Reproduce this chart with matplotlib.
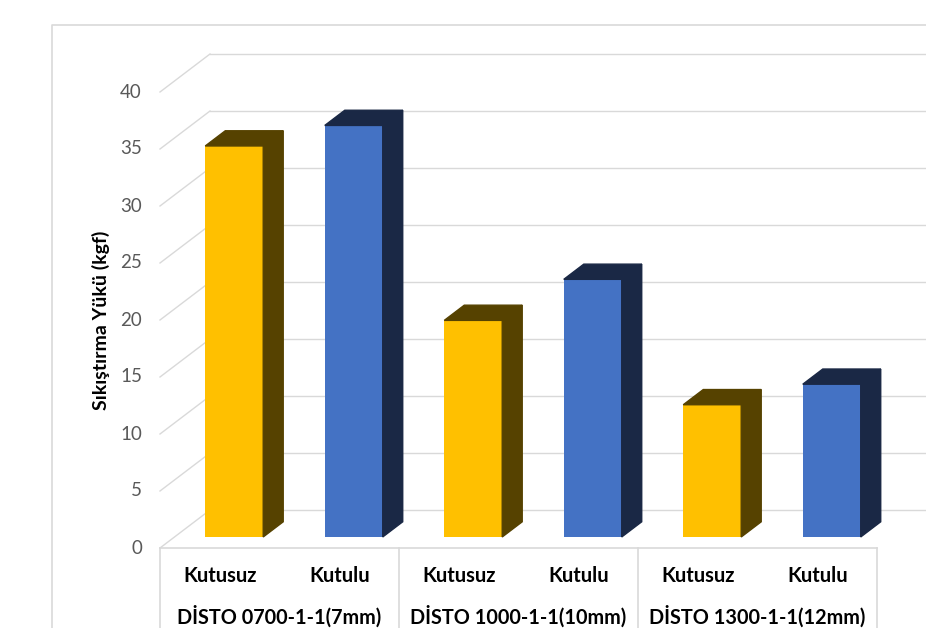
import numpy as np
import matplotlib
matplotlib.use("Agg")
import matplotlib.pyplot as plt
from matplotlib.patches import Polygon

# data
gruplar = ["DİSTO 0700-1-1(7mm)", "DİSTO 1000-1-1(10mm)", "DİSTO 1300-1-1(12mm)"]
seriler = ["Kutusuz", "Kutulu"]
kutusuz = [34.3, 19.0, 11.6]
kutulu = [36.1, 22.6, 13.4]
y_ticks = [0, 5, 10, 15, 20, 25, 30, 35, 40]
y_etiket = "Sıkıştırma Yükü (kgf)"

# colours (front, side/top)
renk_on = {"Kutusuz": "#FFC000", "Kutulu": "#4472C4"}
renk_yan = {"Kutusuz": "#564200", "Kutulu": "#1A2845"}
grid_c = "#D9D9D9"

plt.rcParams['font.family'] = ['Lato', 'DejaVu Sans']

# layout in pixels -> data units (1 category step, 1 kgf)
W_PX, H_PX = 926, 628
X0_PX, Y0_PX = 160, 548        # front-left corner of the floor
STEP_PX, UNIT_PX = 119.5, 11.4
DX = 50 / STEP_PX              # depth offset of the floor/back wall
DY = 38 / UNIT_PX
d0, d1 = 0.29, 0.69            # bar depth (front, back) as a fraction
bar_w = 0.485

fig = plt.figure(figsize=(W_PX / 100, H_PX / 100), dpi=100)
ax = fig.add_axes([0, 0, 1, 1])
ax.set_xlim(-X0_PX / STEP_PX - 0.5, (W_PX - X0_PX) / STEP_PX - 0.5)
ax.set_ylim(-(H_PX - Y0_PX) / UNIT_PX, Y0_PX / UNIT_PX)
ax.axis("off")

n = len(gruplar) * len(seriler)
xL, xR = -0.5, n - 0.5

# outer chart border
top_b = (Y0_PX - 25) / UNIT_PX
left_b = (52 - X0_PX) / STEP_PX - 0.5
ax.plot([left_b, left_b, 10], [-20, top_b, top_b], color=grid_c, lw=1.2)

# grid: left wall diagonals + back wall lines
for t in y_ticks:
    ax.plot([xL, xL + DX], [t, t + DY], color=grid_c, lw=1)
    ax.plot([xL + DX, xR + DX], [t + DY, t + DY], color=grid_c, lw=1)
    ax.text(xL - 18 / STEP_PX, t, str(t), ha="right", va="center",
            fontsize=13.5, color="#595959")

# floor front edge and category table
ax.plot([xL, xR], [0, 0], color=grid_c, lw=1.2)
for xv in [-0.5, 1.5, 3.5, 5.5]:
    ax.plot([xv, xv], [0, -20], color=grid_c, lw=1.2)

# bars
x = np.arange(n)
vals = []
names = []
for i in range(len(gruplar)):
    vals += [kutusuz[i], kutulu[i]]
    names += seriler
dd = d1 - d0
for xi, v, s in zip(x, vals, names):
    xl = xi - bar_w / 2 + d0 * DX
    xr = xl + bar_w
    b = d0 * DY
    ax.bar(xl, v, width=bar_w, bottom=b, align="edge", color=renk_on[s], zorder=3)
    side = [(xr, b), (xr, b + v), (xr + dd * DX, b + v + dd * DY), (xr + dd * DX, b + dd * DY)]
    tp = [(xl, b + v), (xr, b + v), (xr + dd * DX, b + v + dd * DY), (xl + dd * DX, b + v + dd * DY)]
    ax.add_patch(Polygon(side, closed=True, color=renk_yan[s], zorder=3))
    ax.add_patch(Polygon(tp, closed=True, color=renk_yan[s], zorder=3))
    ax.text(xi, -(576 - Y0_PX) / UNIT_PX, s, ha="center", va="center",
            fontsize=14.5, fontweight="bold", color="black")

for g, name in enumerate(gruplar):
    ax.text(2 * g + 0.5, -(617 - Y0_PX) / UNIT_PX, name, ha="center", va="center",
            fontsize=14.3, fontweight="bold", color="black")

# y axis title
ax.text((101 - X0_PX) / STEP_PX - 0.5, (Y0_PX - 320) / UNIT_PX, y_etiket,
        rotation=90, ha="center", va="center", fontsize=14, fontweight="bold")

fig.savefig("out.png", dpi=100, facecolor="white")
